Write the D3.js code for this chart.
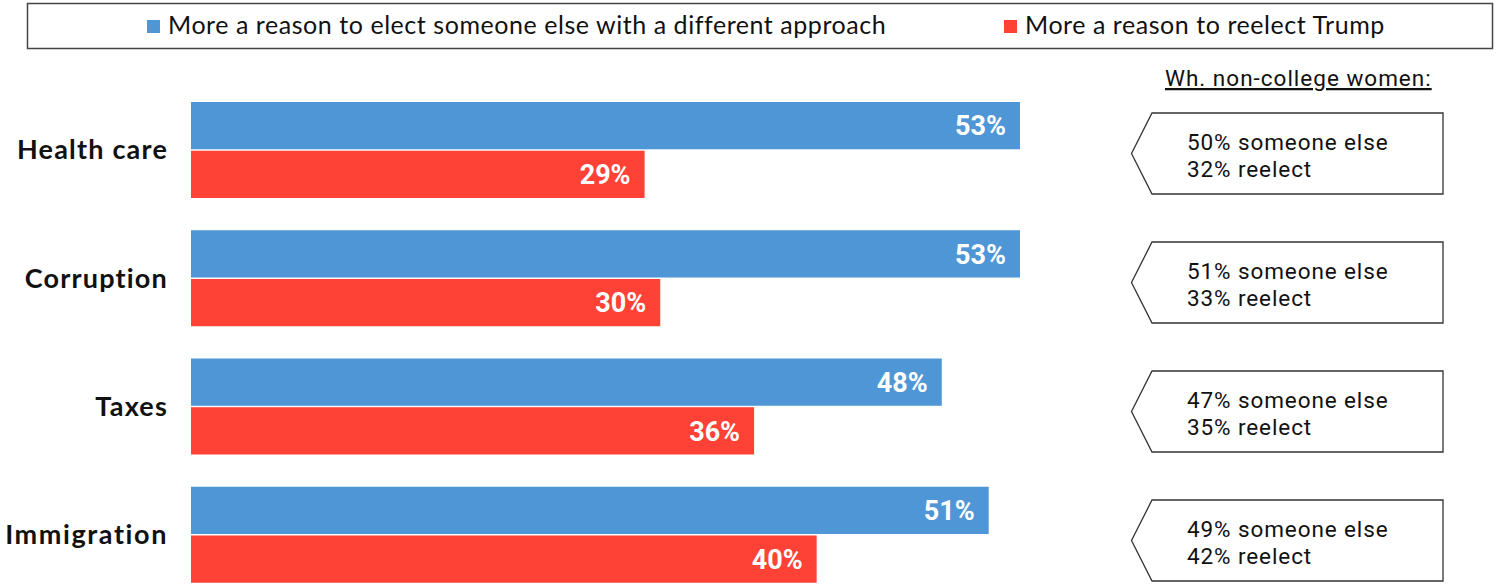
<!DOCTYPE html>
<html><head><meta charset="utf-8">
<script src="https://cdn.jsdelivr.net/npm/d3@7"></script>
<style>body{margin:0;background:#fff}svg{display:block}</style>
</head><body>
<svg id="chart" width="1499" height="585"></svg>
<script>
const categories = ["Health care", "Corruption", "Taxes", "Immigration"];
const seriesNames = ["More a reason to elect someone else with a different approach", "More a reason to reelect Trump"];
const someoneElse = [53, 53, 48, 51];
const reelect = [29, 30, 36, 40];
const wncwSomeoneElse = [50, 51, 47, 49];
const wncwReelect = [32, 33, 35, 42];
const calloutTitle = "Wh. non-college women:";

const colors = ["#4E96D6", "#FF4136"];
const svg = d3.select("#chart");

// legend
svg.append("rect").attr("x", 27.5).attr("y", 3.5).attr("width", 1465).attr("height", 45)
  .attr("fill", "#fff").attr("stroke", "#444").attr("stroke-width", 1.5);
const legItems = [{x: 147, name: seriesNames[0], c: colors[0]}, {x: 1004, name: seriesNames[1], c: colors[1]}];
legItems.forEach(d => {
  svg.append("rect").attr("x", d.x).attr("y", 20).attr("width", 13).attr("height", 13).attr("fill", d.c);
  svg.append("text").attr("x", d.x + 21).attr("y", 34).text(d.name)
    .attr("font-family", "Lato, 'Open Sans', sans-serif").attr("font-size", 25)
    .attr("letter-spacing", 0.55).attr("fill", "#111");
});

// scales
const x = d3.scaleLinear().domain([0, 53]).range([191, 1020]);
const y = d3.scaleBand().domain(categories).range([102, 615]).paddingInner(0).paddingOuter(0);
const yi = d3.scaleBand().domain([0, 1]).range([0, 96]).paddingInner(0.03);
const yc = d3.scaleBand().domain(categories).range([113, 629]);

const g = svg.append("g");
const rows = g.selectAll("g.row").data(categories).join("g").attr("class", "row")
  .attr("transform", d => `translate(0,${y(d)})`);

rows.append("text").attr("x", 168).attr("y", 48).attr("dy", "0.35em").attr("text-anchor", "end")
  .attr("font-family", "Lato, sans-serif").attr("font-weight", "bold").attr("font-size", 27)
  .attr("letter-spacing", d => d === "Immigration" ? 1.6 : 1.2).attr("fill", "#111").text(d => d);

const vals = [someoneElse, reelect];
[0, 1].forEach(s => {
  rows.append("rect").attr("x", x(0)).attr("y", yi(s))
    .attr("width", (d, i) => x(vals[s][i]) - x(0)).attr("height", yi.bandwidth())
    .attr("fill", colors[s]);
  rows.append("text").attr("x", (d, i) => x(vals[s][i]) - 14).attr("y", yi(s) + yi.bandwidth() / 2)
    .attr("dy", "0.36em").attr("text-anchor", "end")
    .attr("font-family", "Roboto, sans-serif").attr("font-weight", "bold").attr("font-size", 27)
    .attr("fill", "#fff").text((d, i) => vals[s][i] + "%");
});

// callouts
svg.append("text").attr("x", 1165).attr("y", 86).text(calloutTitle)
  .attr("font-family", "Roboto, sans-serif").attr("font-size", 22.5).attr("letter-spacing", 1)
  .attr("fill", "#111").attr("text-decoration", "underline");

const callouts = svg.selectAll("g.callout").data(categories).join("g").attr("class", "callout")
  .attr("transform", d => `translate(0,${yc(d)})`);
callouts.each(function(d, i) {
  const r = d3.select(this);
  const top = 0, bot = 81, left = 1152, right = 1443, tip = 1131.5;
  r.append("path").attr("d", `M${left},${top}L${right},${top}L${right},${bot}L${left},${bot}L${tip},${(top + bot) / 2}Z`)
    .attr("fill", "#fff").attr("stroke", "#333").attr("stroke-width", 1.3);
  r.append("text").attr("x", 1187).attr("y", 36.5).text(wncwSomeoneElse[i] + "% someone else")
    .attr("font-family", "Roboto, sans-serif").attr("font-size", 22.5).attr("letter-spacing", 0.9).attr("fill", "#111");
  r.append("text").attr("x", 1187).attr("y", 63.5).text(wncwReelect[i] + "% reelect")
    .attr("font-family", "Roboto, sans-serif").attr("font-size", 22.5).attr("letter-spacing", 0.9).attr("fill", "#111");
});
</script>
</body></html>
